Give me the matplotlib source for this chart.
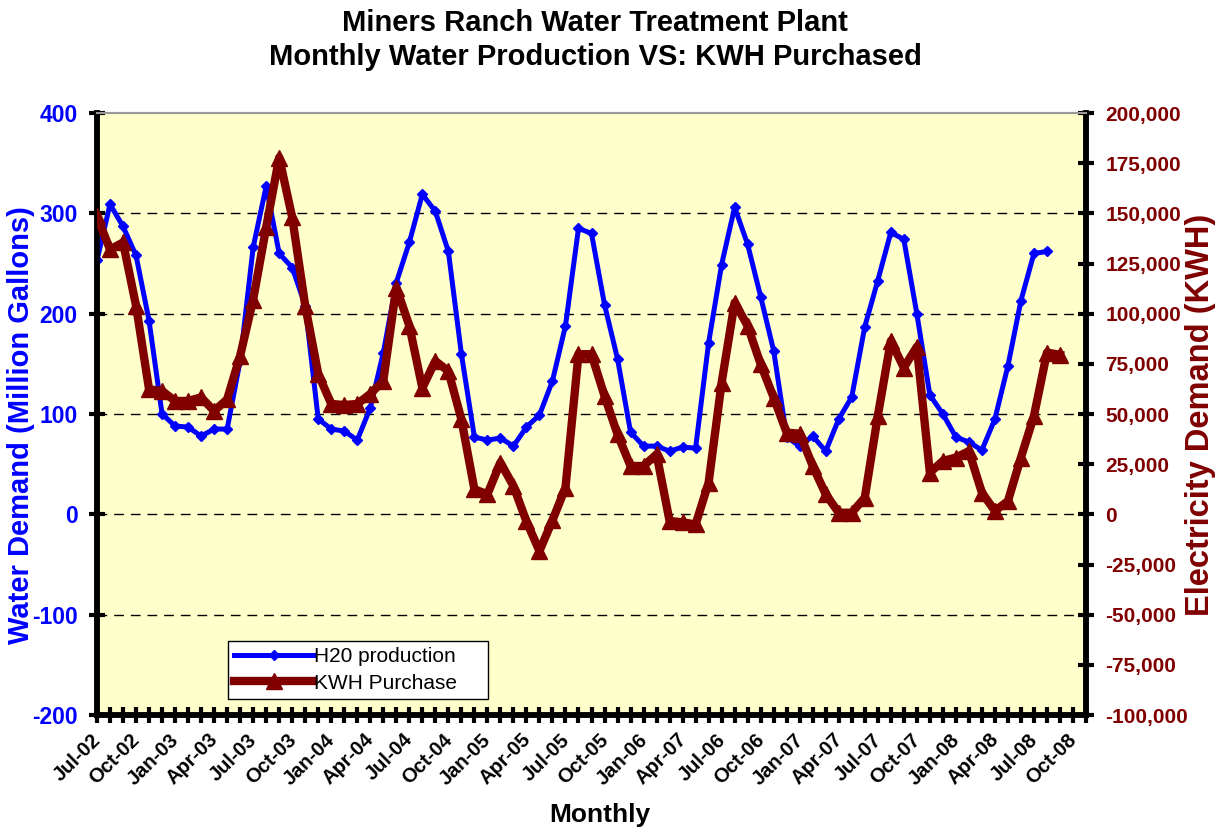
import matplotlib
matplotlib.use("Agg")
import matplotlib.pyplot as plt
import numpy as np

plt.rcParams['font.family'] = ['Liberation Sans', 'DejaVu Sans']
plt.rcParams['axes.unicode_minus'] = False

# ---- data ----
months = ["Jul-02","Aug-02","Sep-02","Oct-02","Nov-02","Dec-02",
          "Jan-03","Feb-03","Mar-03","Apr-03","May-03","Jun-03",
          "Jul-03","Aug-03","Sep-03","Oct-03","Nov-03","Dec-03",
          "Jan-04","Feb-04","Mar-04","Apr-04","May-04","Jun-04",
          "Jul-04","Aug-04","Sep-04","Oct-04","Nov-04","Dec-04",
          "Jan-05","Feb-05","Mar-05","Apr-05","May-05","Jun-05",
          "Jul-05","Aug-05","Sep-05","Oct-05","Nov-05","Dec-05",
          "Jan-06","Feb-06","Mar-06","Apr-06","May-06","Jun-06",
          "Jul-06","Aug-06","Sep-06","Oct-06","Nov-06","Dec-06",
          "Jan-07","Feb-07","Mar-07","Apr-07","May-07","Jun-07",
          "Jul-07","Aug-07","Sep-07","Oct-07","Nov-07","Dec-07",
          "Jan-08","Feb-08","Mar-08","Apr-08","May-08","Jun-08",
          "Jul-08","Aug-08","Sep-08","Oct-08","Nov-08"]

h2o_production = [253, 309, 287, 258, 193, 100, 88, 87, 78, 85, 85, 153,
                  266, 327, 260, 246, 208, 95, 85, 83, 74, 106, 161, 231,
                  271, 319, 302, 262, 160, 77, 74, 76, 68, 87, 99, 133,
                  188, 285, 280, 209, 155, 82, 68, 68, 63, 67, 66, 171,
                  249, 306, 269, 217, 163, 77, 68, 78, 63, 95, 117, 187,
                  233, 281, 274, 200, 119, 100, 77, 72, 64, 95, 148, 213,
                  260, 262]

kwh_purchase = [148500, 132000, 135500, 104000, 62300, 61500, 56500, 56500,
                58300, 51500, 57300, 79000, 107000, 143000, 177800, 148000,
                104000, 70000, 55000, 54500, 55000, 60000, 66500, 113000,
                94000, 63000, 76400, 71400, 47400, 12500, 10000, 25800,
                14100, -3500, -18300, -3000, 13300, 79800, 79800, 59000,
                39900, 24100, 24100, 29900, -3300, -4000, -5000, 15800,
                65600, 105500, 93900, 74800, 58200, 40700, 40200, 24100,
                10000, 800, 800, 8300, 49000, 86400, 73100, 83500,
                20800, 26600, 28300, 31500, 10800, 1700, 6600, 28300,
                49000, 80600, 79500]

tick_labels = ["Jul-02","Oct-02","Jan-03","Apr-03","Jul-03","Oct-03",
               "Jan-04","Apr-04","Jul-04","Oct-04","Jan-05","Apr-05",
               "Jul-05","Oct-05","Jan-06","Apr-07","Jul-06","Oct-06",
               "Jan-07","Apr-07","Jul-07","Oct-07","Jan-08","Apr-08",
               "Jul-08","Oct-08"]

BLUE = "#0000FF"
RED = "#800000"

fig = plt.figure(figsize=(12.22, 8.30), dpi=100)
ax = fig.add_axes([97/1222, 1-715/830, (1086-97)/1222, (715-113)/830])
ax.set_facecolor("#FFFFCC")
ax2 = ax.twinx()

x_all = np.arange(len(months))
xh = x_all[:len(h2o_production)]
xk = x_all[:len(kwh_purchase)]

l1, = ax.plot(xh, h2o_production, color=BLUE, lw=3.6, marker="D", ms=5,
              label="H20 production", zorder=3)
l2, = ax2.plot(xk, kwh_purchase, color=RED, lw=6, marker="^", ms=12,
               label="KWH Purchase", zorder=3)

ax.set_xlim(0, len(months) - 1)
ax.set_ylim(-200, 400)
ax2.set_ylim(-100000, 200000)

ax.set_yticks(np.arange(-200, 401, 100))
ax2.set_yticks(np.arange(-100000, 200001, 25000))
ax2.set_yticklabels([f"{v:,}" for v in range(-100000, 200001, 25000)])

ax.set_xticks(x_all)
ax.set_xticklabels([""] * len(x_all))
label_pos = x_all[::3][:len(tick_labels)]
for p, t in zip(label_pos, tick_labels):
    ax.text(p - 0.45, -0.025, t, transform=ax.get_xaxis_transform(),
            rotation=45, ha="right", va="top", fontsize=14.5,
            fontweight="bold", rotation_mode="anchor")

for g in (-100, 0, 100, 200, 300):
    ax.axhline(g, color="black", lw=1, ls=(0, (7, 5)), zorder=1)

ax.tick_params(axis="x", direction="inout", length=12, width=3, color="black")
ax.tick_params(axis="y", direction="inout", length=12, width=3, color="black",
               labelsize=16.5, labelcolor=BLUE, pad=8)
ax2.tick_params(axis="y", direction="inout", length=12, width=3, color="black",
                labelsize=15, labelcolor=RED, pad=8)
for lab in ax.get_yticklabels():
    lab.set_fontweight("bold")
for lab in ax2.get_yticklabels():
    lab.set_fontweight("bold")

for a in (ax, ax2):
    a.spines["left"].set_linewidth(4)
    a.spines["right"].set_linewidth(4)
    a.spines["bottom"].set_linewidth(4)
    a.spines["top"].set_color("#999999")
    a.spines["top"].set_linewidth(1.5)

fig.text(21/1222, 1-425/830, "Water Demand (Million Gallons)", rotation=90,
         ha="center", va="center", color=BLUE, fontsize=21, fontweight="bold")
fig.text(1200/1222, 1-415/830, "Electricity Demand (KWH)", rotation=90,
         ha="center", va="center", color=RED, fontsize=23.5, fontweight="bold")
fig.text(600/1222, 1-815/830, "Monthly", ha="center", va="center",
         fontsize=19, fontweight="bold")
fig.text(595/1222, 1-40/830,
         "Miners Ranch Water Treatment Plant\nMonthly Water Production VS: KWH Purchased",
         ha="center", va="center", fontsize=21, fontweight="bold",
         linespacing=1.3)

leg = ax2.legend(handles=[l1, l2], loc="lower left",
                 bbox_to_anchor=((228-97)/989, (715-699)/602, (488-228)/989, (699-626)/602),
                 mode="expand", fontsize=15, frameon=True, fancybox=False,
                 edgecolor="black", facecolor="white", framealpha=1,
                 handlelength=3.8, borderaxespad=0, borderpad=0.3,
                 handletextpad=0.05, labelspacing=0.35)
leg.get_frame().set_linewidth(1)
leg.set_zorder(10)

fig.savefig("out.png", dpi=100)
